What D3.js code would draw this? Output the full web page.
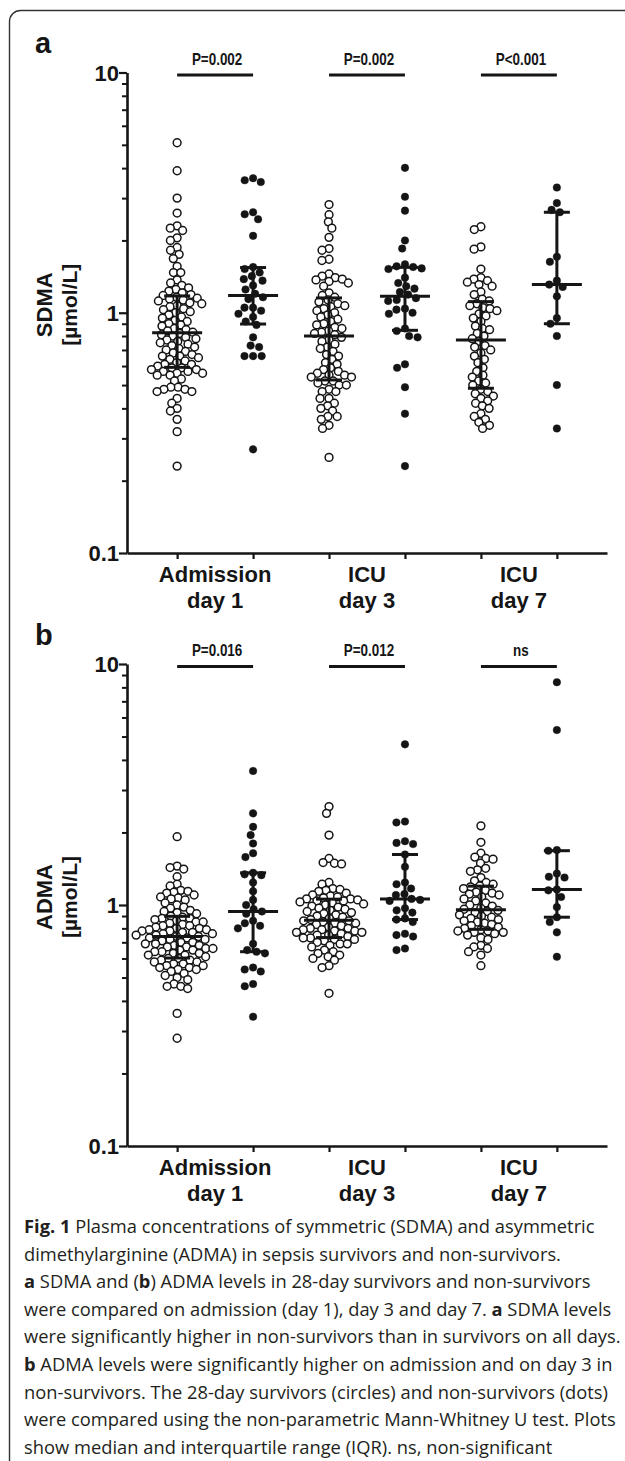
<!DOCTYPE html>
<html>
<head>
<meta charset="utf-8">
<script src="https://cdn.jsdelivr.net/npm/d3@7/dist/d3.min.js"></script>
<style>
    body { margin: 0; background: #fff; }
    svg { display: block; }
</style>
</head>
<body>
<svg id="figure" width="625" height="1461"></svg>
<script>
// six columns per panel: survivors / non-survivors on each day
const group_ids = ['d1_s', 'd1_ns', 'd3_s', 'd3_ns', 'd7_s', 'd7_ns'];
const group_is_survivor = [true, false, true, false, true, false];
const day_labels = [['Admission', 'day 1'], ['ICU', 'day 3'], ['ICU', 'day 7']];
const y_major_ticks = [0.1, 1, 10];
const y_minor_ticks = [0.2, 0.3, 0.4, 0.5, 0.6, 0.7, 0.8, 0.9, 2, 3, 4, 5, 6, 7, 8, 9];

// panel a, SDMA [µmol/L]
const sdma_day1_survivors = [5.1, 3.9, 3.0, 2.6, 2.3, 2.25, 2.2, 2.05, 2.0, 1.87, 1.82, 1.75, 1.68, 1.56, 1.47, 1.47, 1.37, 1.33, 1.30, 1.27, 1.25, 1.23, 1.21, 1.19, 1.18,
    1.16, 1.15, 1.14, 1.13, 1.12, 1.10, 1.09, 1.07, 1.06, 1.04, 1.03, 1.01, 1.00, 0.98, 0.96, 0.95, 0.93, 0.92, 0.90, 0.89, 0.88, 0.86, 0.85, 0.84, 0.83,
    0.82, 0.81, 0.80, 0.79, 0.78, 0.77, 0.76, 0.75, 0.74, 0.73, 0.72, 0.71, 0.70, 0.69, 0.68, 0.67, 0.66, 0.66, 0.65, 0.64, 0.63, 0.62, 0.61, 0.61, 0.60,
    0.59, 0.59, 0.58, 0.58, 0.57, 0.57, 0.56, 0.56, 0.55, 0.55, 0.53, 0.52, 0.49, 0.49, 0.48, 0.48, 0.47, 0.47, 0.44, 0.42, 0.40, 0.39, 0.36, 0.32, 0.23];
const sdma_day1_nonsurvivors = [3.63, 3.56, 3.5, 2.62, 2.57, 2.45, 2.09, 1.55, 1.52, 1.47, 1.42, 1.38, 1.36, 1.30, 1.25, 1.20,
    1.16, 1.14, 1.05, 1.05, 1.02, 0.99, 0.96, 0.92, 0.89, 0.79, 0.73, 0.72, 0.66, 0.66, 0.66, 0.27];
const sdma_day3_survivors = [2.82, 2.56, 2.39, 2.25, 2.06, 1.85, 1.82, 1.67, 1.65, 1.45, 1.42, 1.40, 1.38, 1.37, 1.35, 1.33, 1.29, 1.21, 1.18, 1.16,
    1.13, 1.11, 1.09, 1.07, 1.06, 1.04, 1.02, 1.00, 0.98, 0.96, 0.94, 0.92, 0.90, 0.89, 0.87, 0.86, 0.84, 0.83, 0.82, 0.81,
    0.79, 0.77, 0.76, 0.74, 0.72, 0.71, 0.69, 0.67, 0.66, 0.64, 0.62, 0.61, 0.59, 0.58, 0.57, 0.56, 0.55, 0.55, 0.54, 0.54,
    0.52, 0.52, 0.51, 0.50, 0.50, 0.48, 0.47, 0.47, 0.44, 0.44, 0.42, 0.41, 0.40, 0.39, 0.37, 0.37, 0.36, 0.34, 0.33, 0.25];
const sdma_day3_nonsurvivors = [4.01, 3.04, 2.66, 2.0, 1.85, 1.59, 1.56, 1.55, 1.53, 1.52, 1.40, 1.33, 1.29, 1.26, 1.22, 1.19,
    1.15, 1.13, 1.12, 1.04, 1.03, 1.0, 0.99, 0.86, 0.84, 0.80, 0.79, 0.61, 0.59, 0.49, 0.38, 0.23];
const sdma_day7_survivors = [2.28, 2.22, 1.88, 1.84, 1.52, 1.40, 1.38, 1.36, 1.34, 1.31, 1.29, 1.22, 1.19, 1.14, 1.12,
    1.09, 1.07, 1.05, 1.04, 1.02, 0.99, 0.97, 0.95, 0.92, 0.88, 0.86, 0.85, 0.82, 0.80, 0.78,
    0.76, 0.73, 0.72, 0.70, 0.68, 0.66, 0.64, 0.62, 0.59, 0.57, 0.55, 0.54, 0.52, 0.51, 0.50,
    0.48, 0.47, 0.46, 0.45, 0.44, 0.43, 0.42, 0.41, 0.40, 0.38, 0.37, 0.36, 0.35, 0.34, 0.33];
const sdma_day7_nonsurvivors = [3.32, 2.86, 2.68, 2.62, 1.71, 1.63, 1.36, 1.31, 1.28, 1.17, 0.95, 0.90, 0.80, 0.50, 0.33];
const sdma_pvalues = ['P=0.002', 'P=0.002', 'P<0.001'];

// panel b, ADMA [µmol/L]
const adma_day1_survivors = [1.92, 1.45, 1.43, 1.41, 1.31, 1.22, 1.20, 1.15, 1.14, 1.13, 1.12, 1.10, 1.08, 1.07, 1.06, 1.05, 1.02, 1.00, 0.98, 0.97, 0.95, 0.94, 0.93, 0.92, 0.90,
    0.89, 0.88, 0.88, 0.87, 0.86, 0.85, 0.85, 0.84, 0.83, 0.82, 0.82, 0.81, 0.80, 0.80, 0.79, 0.79, 0.78, 0.78, 0.77, 0.77, 0.76, 0.76, 0.75, 0.75, 0.74,
    0.74, 0.73, 0.73, 0.72, 0.72, 0.71, 0.70, 0.70, 0.69, 0.69, 0.68, 0.68, 0.67, 0.67, 0.66, 0.66, 0.65, 0.65, 0.64, 0.64, 0.63, 0.63, 0.62, 0.62, 0.61,
    0.60, 0.60, 0.59, 0.59, 0.58, 0.58, 0.57, 0.57, 0.56, 0.56, 0.55, 0.55, 0.54, 0.54, 0.53, 0.52, 0.51, 0.50, 0.49, 0.47, 0.46, 0.46, 0.45, 0.355, 0.28];
const adma_day1_nonsurvivors = [3.6, 2.4, 2.11, 1.95, 1.80, 1.64, 1.58, 1.36, 1.34, 1.33, 1.24, 1.14, 1.05, 1.0, 0.96, 0.94,
    0.92, 0.86, 0.84, 0.82, 0.80, 0.69, 0.65, 0.64, 0.63, 0.55, 0.54, 0.53, 0.47, 0.46, 0.344];
const adma_day3_survivors = [2.56, 2.40, 1.95, 1.56, 1.50, 1.49, 1.48, 1.24, 1.22, 1.17, 1.16, 1.15, 1.14, 1.12, 1.10, 1.09, 1.08, 1.07, 1.06, 1.06,
    1.05, 1.04, 1.04, 1.03, 1.02, 1.01, 1.00, 0.99, 0.98, 0.97, 0.96, 0.95, 0.94, 0.93, 0.92, 0.91, 0.90, 0.89, 0.88, 0.87,
    0.86, 0.86, 0.85, 0.84, 0.84, 0.83, 0.82, 0.81, 0.80, 0.80, 0.79, 0.79, 0.78, 0.78, 0.77, 0.77, 0.76, 0.75, 0.75, 0.74,
    0.73, 0.73, 0.72, 0.72, 0.71, 0.70, 0.69, 0.69, 0.68, 0.67, 0.65, 0.64, 0.63, 0.62, 0.61, 0.60, 0.59, 0.56, 0.55, 0.43];
const adma_day3_nonsurvivors = [4.64, 2.22, 2.20, 1.84, 1.81, 1.79, 1.62, 1.44, 1.24, 1.22, 1.17, 1.11, 1.10, 1.06,
    1.05, 1.04, 0.97, 0.95, 0.93, 0.88, 0.87, 0.85, 0.76, 0.75, 0.74, 0.66, 0.65];
const adma_day7_survivors = [2.13, 1.82, 1.64, 1.58, 1.56, 1.55, 1.49, 1.42, 1.40, 1.38, 1.30, 1.26, 1.24, 1.22, 1.20,
    1.19, 1.17, 1.15, 1.13, 1.12, 1.11, 1.10, 1.08, 1.06, 1.04, 1.02, 1.00, 0.99, 0.97, 0.96,
    0.95, 0.94, 0.93, 0.91, 0.90, 0.89, 0.88, 0.87, 0.86, 0.85, 0.84, 0.83, 0.82, 0.81, 0.80,
    0.79, 0.78, 0.78, 0.77, 0.77, 0.76, 0.75, 0.73, 0.72, 0.68, 0.67, 0.66, 0.64, 0.62, 0.56];
const adma_day7_nonsurvivors = [8.4, 5.32, 1.69, 1.68, 1.35, 1.31, 1.30, 1.16, 1.15, 1.08, 0.98, 0.89, 0.85, 0.77, 0.61];
const adma_pvalues = ['P=0.016', 'P=0.012', 'ns'];

const caption_lines = [
    [['Fig. 1', true], [' Plasma concentrations of symmetric (SDMA) and asymmetric', false]],
    [['dimethylarginine (ADMA) in sepsis survivors and non-survivors.', false]],
    [['a', true], [' SDMA and (', false], ['b', true], [') ADMA levels in 28-day survivors and non-survivors', false]],
    [['were compared on admission (day 1), day 3 and day 7. ', false], ['a', true], [' SDMA levels', false]],
    [['were significantly higher in non-survivors than in survivors on all days.', false]],
    [['b', true], [' ADMA levels were significantly higher on admission and on day 3 in', false]],
    [['non-survivors. The 28-day survivors (circles) and non-survivors (dots)', false]],
    [['were compared using the non-parametric Mann-Whitney U test. Plots', false]],
    [['show median and interquartile range (IQR). ns, non-significant', false]]
];

const chart_font = "'Liberation Sans', Arimo, Arial, sans-serif";
const caption_font = "'Open Sans', 'Noto Sans', sans-serif";
const ink = '#151515';

let svg = d3.select('#figure');

// frame (bottom and right run past the picture edge)
svg.append('rect')
    .attr('x', 9.5).attr('y', 10.5)
    .attr('width', 700).attr('height', 1500)
    .attr('rx', 11)
    .attr('fill', 'none')
    .attr('stroke', '#333')
    .attr('stroke-width', 1.4);

let x = d3.scalePoint()
    .domain(group_ids)
    .range([127, 607])
    .padding(0.66);

// Prism style quartiles, position (n+1)p
function prism_quantile(values, p) {
    let s = values.slice().sort(d3.ascending);
    let pos = (s.length + 1) * p;
    if (pos <= 1) return s[0];
    if (pos >= s.length) return s[s.length - 1];
    let lo = Math.floor(pos);
    return s[lo - 1] + (pos - lo) * (s[lo] - s[lo - 1]);
}

// simple beeswarm: each point goes as near the centre as it can
function beeswarm(values, y, diameter) {
    let pts = values.map(function (v) { return {v: v, y: y(v), dx: 0}; })
        .sort(function (a, b) { return a.y - b.y; });
    let placed = [];
    pts.forEach(function (p) {
        let near = placed.filter(function (q) { return Math.abs(q.y - p.y) < diameter; });
        let candidates = [0];
        near.forEach(function (q) {
            let off = Math.sqrt(diameter * diameter - (q.y - p.y) * (q.y - p.y));
            candidates.push(q.dx - off, q.dx + off);
        });
        candidates.sort(function (a, b) { return Math.abs(a) - Math.abs(b) || a - b; });
        for (let c of candidates) {
            let ok = near.every(function (q) {
                return Math.hypot(q.dx - c, q.y - p.y) >= diameter - 1e-6;
            });
            if (ok) { p.dx = c; break; }
        }
        placed.push(p);
    });
    return pts;
}

function draw_panel(series, pvalues, y_name, letter, y_top, y_bottom) {
    let g = svg.append('g');
    let y = d3.scaleLog().domain([0.1, 10]).range([y_bottom, y_top]);

    // panel letter
    g.append('text')
        .attr('x', 35).attr('y', y_top - 19.5)
        .attr('font-family', chart_font).attr('font-weight', 'bold')
        .attr('font-size', 29).attr('fill', ink)
        .text(letter);

    // y axis label, two lines
    let y_mid = (y_top + y_bottom) / 2 - 8;
    g.append('text')
        .attr('transform', 'translate(52,' + y_mid + ') rotate(-90)')
        .attr('text-anchor', 'middle')
        .attr('font-family', chart_font).attr('font-weight', 'bold')
        .attr('font-size', 22).attr('fill', ink)
        .text(y_name);
    g.append('text')
        .attr('transform', 'translate(77,' + y_mid + ') rotate(-90)')
        .attr('text-anchor', 'middle')
        .attr('font-family', chart_font).attr('font-weight', 'bold')
        .attr('font-size', 21).attr('fill', ink)
        .text('[µmol/L]');

    // minor ticks
    g.append('g')
        .attr('transform', 'translate(127,0)')
        .call(d3.axisLeft(y).tickValues(y_minor_ticks).tickSize(5).tickSizeOuter(0).tickFormat(''))
        .call(function (a) {
            a.select('.domain').remove();
            a.selectAll('line').attr('stroke', ink).attr('stroke-width', 2);
        });

    // major ticks and axis line
    g.append('g')
        .attr('transform', 'translate(127,0)')
        .call(d3.axisLeft(y).tickValues(y_major_ticks).tickSize(8).tickSizeOuter(0).tickPadding(0)
            .tickFormat(d3.format('~g')))
        .call(function (a) {
            a.select('.domain').attr('stroke', ink).attr('stroke-width', 2.6);
            a.selectAll('line').attr('stroke', ink).attr('stroke-width', 2.2);
            a.selectAll('text')
                .attr('font-family', chart_font).attr('font-weight', 'bold')
                .attr('font-size', 22).attr('fill', ink)
                .attr('dy', '0.36em');
        });

    // x axis
    g.append('g')
        .attr('transform', 'translate(0,' + y_bottom + ')')
        .call(d3.axisBottom(x).tickSize(6).tickSizeOuter(0).tickFormat(''))
        .call(function (a) {
            a.select('.domain').attr('stroke', ink).attr('stroke-width', 2.6);
            a.selectAll('line').attr('stroke', ink).attr('stroke-width', 2.2);
        });

    // day labels and p-value bars
    day_labels.forEach(function (lab, i) {
        let x0 = x(group_ids[2 * i]);
        let x1 = x(group_ids[2 * i + 1]);
        let cx = (x0 + x1) / 2;
        g.append('text')
            .attr('x', cx).attr('y', y_bottom + 29)
            .attr('text-anchor', 'middle')
            .attr('font-family', chart_font).attr('font-weight', 'bold')
            .attr('font-size', 22).attr('fill', ink)
            .text(lab[0]);
        g.append('text')
            .attr('x', cx).attr('y', y_bottom + 55)
            .attr('text-anchor', 'middle')
            .attr('font-family', chart_font).attr('font-weight', 'bold')
            .attr('font-size', 22).attr('fill', ink)
            .text(lab[1]);

        g.append('line')
            .attr('x1', x0).attr('x2', x1)
            .attr('y1', y(10) + 2.5).attr('y2', y(10) + 2.5)
            .attr('stroke', ink).attr('stroke-width', 3);
        g.append('text')
            .attr('transform', 'translate(' + (cx + 2) + ',' + (y(10) - 8) + ') scale(0.84,1)')
            .attr('text-anchor', 'middle')
            .attr('font-family', chart_font).attr('font-weight', 'bold')
            .attr('font-size', 16).attr('fill', ink)
            .text(pvalues[i]);
    });

    // points
    series.forEach(function (values, i) {
        let cx = x(group_ids[i]);
        let open = group_is_survivor[i];
        let pts = beeswarm(values, y, open ? 7.2 : 8.6);
        g.append('g').selectAll('circle')
            .data(pts)
            .join('circle')
            .attr('cx', function (d) { return cx + d.dx; })
            .attr('cy', function (d) { return d.y; })
            .attr('r', open ? 3.9 : 3.8)
            .attr('fill', open ? '#fff' : ink)
            .attr('stroke', ink)
            .attr('stroke-width', open ? 1.5 : 0.4);
    });

    // median and IQR on top
    series.forEach(function (values, i) {
        let cx = x(group_ids[i]);
        let q1 = y(prism_quantile(values, 0.25));
        let med = y(prism_quantile(values, 0.5));
        let q3 = y(prism_quantile(values, 0.75));
        let eb = g.append('g').attr('stroke', ink).attr('stroke-width', 3);
        eb.append('line').attr('x1', cx).attr('x2', cx).attr('y1', q1).attr('y2', q3);
        eb.append('line').attr('x1', cx - 13).attr('x2', cx + 13).attr('y1', q1).attr('y2', q1);
        eb.append('line').attr('x1', cx - 13).attr('x2', cx + 13).attr('y1', q3).attr('y2', q3);
        eb.append('line').attr('x1', cx - 25).attr('x2', cx + 25).attr('y1', med).attr('y2', med);
    });
}

draw_panel([sdma_day1_survivors, sdma_day1_nonsurvivors, sdma_day3_survivors,
        sdma_day3_nonsurvivors, sdma_day7_survivors, sdma_day7_nonsurvivors],
    sdma_pvalues, 'SDMA', 'a', 72.5, 553);

draw_panel([adma_day1_survivors, adma_day1_nonsurvivors, adma_day3_survivors,
        adma_day3_nonsurvivors, adma_day7_survivors, adma_day7_nonsurvivors],
    adma_pvalues, 'ADMA', 'b', 664, 1146);

// caption
let caption = svg.append('g').attr('transform', 'translate(24,1233)');
let caption_text = [];
caption_lines.forEach(function (parts, i) {
    let t = caption.append('text')
        .attr('x', 0).attr('y', i * 27.6)
        .attr('font-family', caption_font)
        .attr('font-size', 18.5)
        .attr('fill', '#231f20');
    parts.forEach(function (p) {
        t.append('tspan')
            .attr('font-weight', p[1] ? 'bold' : 'normal')
            .text(p[0]);
    });
    caption_text.push(t);
});
// squeeze to the column width (longest line ends near x=621)
let widest = d3.max(caption_text, function (t) { return t.node().getComputedTextLength(); });
let sx = 597 / widest;
caption.attr('transform', 'translate(24,1233) scale(' + sx + ',1)');
</script>
</body>
</html>
